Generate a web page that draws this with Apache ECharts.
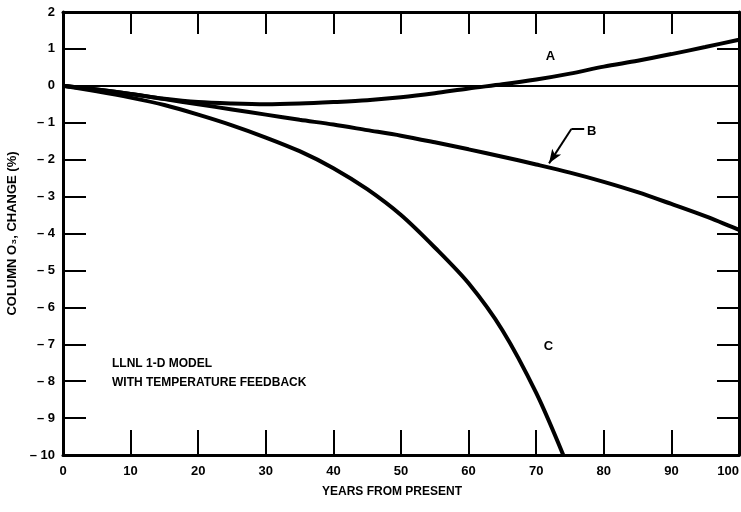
<!DOCTYPE html>
<html>
<head>
<meta charset="utf-8">
<script src="https://cdn.jsdelivr.net/npm/echarts@6/dist/echarts.min.js"></script>
<style>html,body{margin:0;padding:0;background:#fff}#c{width:741px;height:512px}</style>
</head>
<body>
<div id="c"></div>
<script>
const years = [0, 5, 10, 15, 20, 25, 30, 35, 40, 45, 50, 55, 60, 65, 70, 75, 80, 85, 90, 95, 100];
const curveA = [0, -0.1, -0.22, -0.35, -0.44, -0.48, -0.5, -0.48, -0.44, -0.39, -0.31, -0.2, -0.07, 0.04, 0.17, 0.33, 0.52, 0.68, 0.86, 1.05, 1.25];
const curveB = [0, -0.1, -0.22, -0.36, -0.5, -0.64, -0.78, -0.92, -1.05, -1.2, -1.35, -1.53, -1.72, -1.92, -2.13, -2.35, -2.6, -2.88, -3.2, -3.53, -3.9];
const yearsC = [0, 5, 10, 15, 20, 25, 30, 35, 40, 45, 50, 55, 60, 65, 70, 74];
const curveC = [0, -0.15, -0.32, -0.52, -0.78, -1.07, -1.4, -1.77, -2.23, -2.8, -3.5, -4.38, -5.35, -6.62, -8.32, -10];
const xTicks = [0, 10, 20, 30, 40, 50, 60, 70, 80, 90, 100];
const yTicks = [2, 1, 0, -1, -2, -3, -4, -5, -6, -7, -8, -9, -10];

const pair = (xs, ys) => xs.map((x, i) => [x, ys[i]]);
const font = '"Liberation Sans", Arial, sans-serif';
const chart = echarts.init(document.getElementById('c'));
const lineStyle = { color: '#000', width: 4 };
const labelStyle = { fontFamily: font, fontWeight: 'bold', fontSize: 13, color: '#000' };
const frameLine = { show: true, onZero: false, lineStyle: { color: '#000', width: 3 } };

chart.setOption({
  animation: false,
  backgroundColor: '#fff',
  grid: { left: 63, right: 2, top: 12, bottom: 57, outerBoundsMode: 'none', containLabel: false },
  xAxis: [{
    type: 'value', min: 0, max: 100, interval: 10, position: 'bottom',
    axisLine: frameLine,
    axisTick: { show: true, inside: true, length: 25, lineStyle: { color: '#000', width: 2 } },
    axisLabel: { margin: 10, fontFamily: font, fontWeight: 'bold', fontSize: 13, color: '#000', alignMaxLabel: 'right' },
    splitLine: { show: false },
    name: 'YEARS FROM PRESENT', nameLocation: 'middle', nameGap: 31,
    nameTextStyle: { fontFamily: font, fontWeight: 'bold', fontSize: 12, color: '#000', padding: [0, 18, 0, 0] }
  }, {
    type: 'value', min: 0, max: 100, interval: 10, position: 'top',
    axisLine: frameLine,
    axisTick: { show: true, inside: true, length: 22, lineStyle: { color: '#000', width: 2 } },
    axisLabel: { show: false }, splitLine: { show: false }
  }],
  yAxis: [{
    type: 'value', min: -10, max: 2, interval: 1, position: 'left',
    axisLine: frameLine,
    axisTick: { show: true, inside: true, length: 23, lineStyle: { color: '#000', width: 2 } },
    axisLabel: { margin: 8, fontFamily: font, fontWeight: 'bold', fontSize: 13, color: '#000',
      formatter: v => v < 0 ? '\u2013 ' + Math.abs(v) : String(v) },
    splitLine: { show: false },
    name: 'COLUMN O\u2083, CHANGE (%)', nameLocation: 'middle', nameGap: 42,
    nameTextStyle: { fontFamily: font, fontWeight: 'bold', fontSize: 13, color: '#000' }
  }, {
    type: 'value', min: -10, max: 2, interval: 1, position: 'right',
    axisLine: frameLine,
    axisTick: { show: true, inside: true, length: 22, lineStyle: { color: '#000', width: 2 } },
    axisLabel: { show: false }, splitLine: { show: false }
  }],
  series: [
    {
      name: 'A', type: 'line', smooth: 0.3, symbol: 'none', data: pair(years, curveA), lineStyle,
      markLine: {
        silent: true, symbol: 'none', label: { show: false },
        lineStyle: { color: '#000', width: 2, type: 'solid' },
        data: [{ yAxis: 0 }]
      },
      markPoint: {
        symbolSize: 0, label: { show: true, ...labelStyle, formatter: 'A' },
        data: [{ coord: [72.1, 0.8] }]
      }
    },
    {
      name: 'B', type: 'line', smooth: 0.3, symbol: 'none', data: pair(years, curveB), lineStyle,
      markLine: {
        silent: true, label: { show: false },
        lineStyle: { color: '#000', width: 2, type: 'solid' },
        data: [
          [{ coord: [77.1, -1.17], symbol: 'none' }, { coord: [75.2, -1.17], symbol: 'none' }],
          [{ coord: [75.2, -1.17], symbol: 'none' }, { coord: [71.9, -2.1], symbol: 'arrow', symbolSize: [8, 14] }]
        ]
      },
      markPoint: {
        symbolSize: 0, label: { show: true, ...labelStyle, formatter: 'B' },
        data: [{ coord: [78.2, -1.23] }]
      }
    },
    {
      name: 'C', type: 'line', smooth: 0.3, symbol: 'none', data: pair(yearsC, curveC), lineStyle,
      markPoint: {
        symbolSize: 0, label: { show: true, ...labelStyle, formatter: 'C' },
        data: [{ coord: [71.8, -7.05] }]
      }
    }
  ],
  graphic: [{
    type: 'text', left: 112, top: 354,
    style: { text: 'LLNL 1-D MODEL\nWITH TEMPERATURE FEEDBACK', font: 'bold 12px ' + font, fill: '#000', lineHeight: 19 }
  }]
});
</script>
</body>
</html>
